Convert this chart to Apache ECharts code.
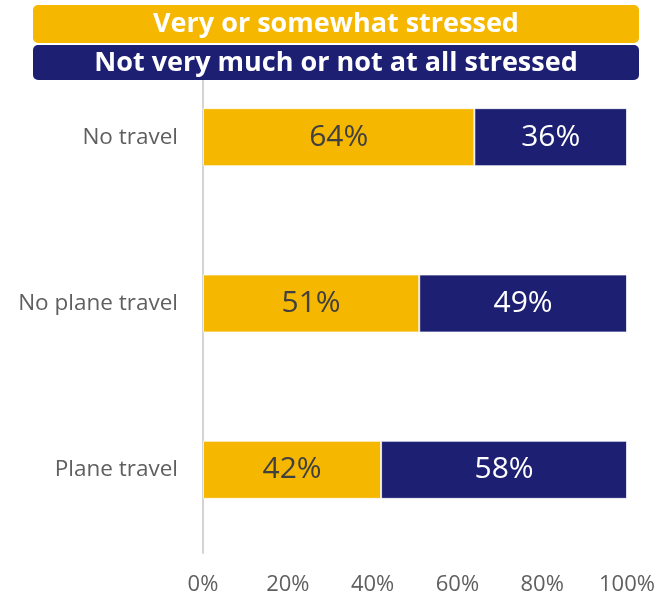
<!DOCTYPE html>
<html>
<head>
<meta charset="utf-8">
<script src="https://cdn.jsdelivr.net/npm/echarts@6/dist/echarts.min.js"></script>
<style>html,body{margin:0;padding:0;background:#fff;}#c{width:672px;height:599px;}</style>
</head>
<body>
<div id="c"></div>
<script>
const categories = ['No travel', 'No plane travel', 'Plane travel'];
const seriesNames = ['Very or somewhat stressed', 'Not very much or not at all stressed'];
const stressed = [64, 51, 42];
const notStressed = [36, 49, 58];
const xTicks = [0, 20, 40, 60, 80, 100];

const colors = ['#F6B700', '#1C1F72'];
const font = '"Open Sans", "Noto Sans", sans-serif';

const chart = echarts.init(document.getElementById('c'), null, {renderer: 'canvas'});
chart.setOption({
  animation: false,
  grid: {left: 203, right: 45, top: 54, bottom: 46, containLabel: false},
  xAxis: {
    type: 'value', min: xTicks[0], max: xTicks[xTicks.length - 1], interval: 20,
    axisLine: {show: false}, axisTick: {show: false}, splitLine: {show: false},
    axisLabel: {formatter: '{value}%', color: '#5f5f5f', fontSize: 22, fontFamily: font, margin: 21}
  },
  yAxis: {
    type: 'category', data: categories, inverse: true,
    axisLine: {show: true, lineStyle: {color: '#d4d4d4', width: 2}},
    axisTick: {show: false},
    axisLabel: {color: '#5f5f5f', fontSize: 22.5, fontFamily: font, margin: 25}
  },
  series: [
    {name: seriesNames[0], type: 'bar', stack: 's', data: stressed, barWidth: 58,
     itemStyle: {color: colors[0], borderColor: 'rgba(255,255,255,0.7)', borderWidth: 1},
     label: {show: true, position: 'inside', formatter: '{c}%', color: '#404040', fontSize: 30, fontFamily: font}},
    {name: seriesNames[1], type: 'bar', stack: 's', data: notStressed, barWidth: 58,
     itemStyle: {color: colors[1], borderColor: 'rgba(255,255,255,0.7)', borderWidth: 1},
     label: {show: true, position: 'inside', formatter: '{c}%', color: '#ffffff', fontSize: 30, fontFamily: font}}
  ],
  graphic: [
    {type: 'rect', left: 33, top: 5, z: 100, shape: {width: 606, height: 38, r: 5}, style: {fill: colors[0]}},
    {type: 'text', x: 336, y: 24, z: 101, style: {text: seriesNames[0], fill: '#fff', font: 'bold 27px ' + font, textAlign: 'center', textVerticalAlign: 'middle'}},
    {type: 'rect', left: 33, top: 45, z: 100, shape: {width: 606, height: 35, r: 5}, style: {fill: colors[1]}},
    {type: 'text', x: 336, y: 63, z: 101, style: {text: seriesNames[1], fill: '#fff', font: 'bold 27px ' + font, textAlign: 'center', textVerticalAlign: 'middle'}}
  ]
});
</script>
</body>
</html>
